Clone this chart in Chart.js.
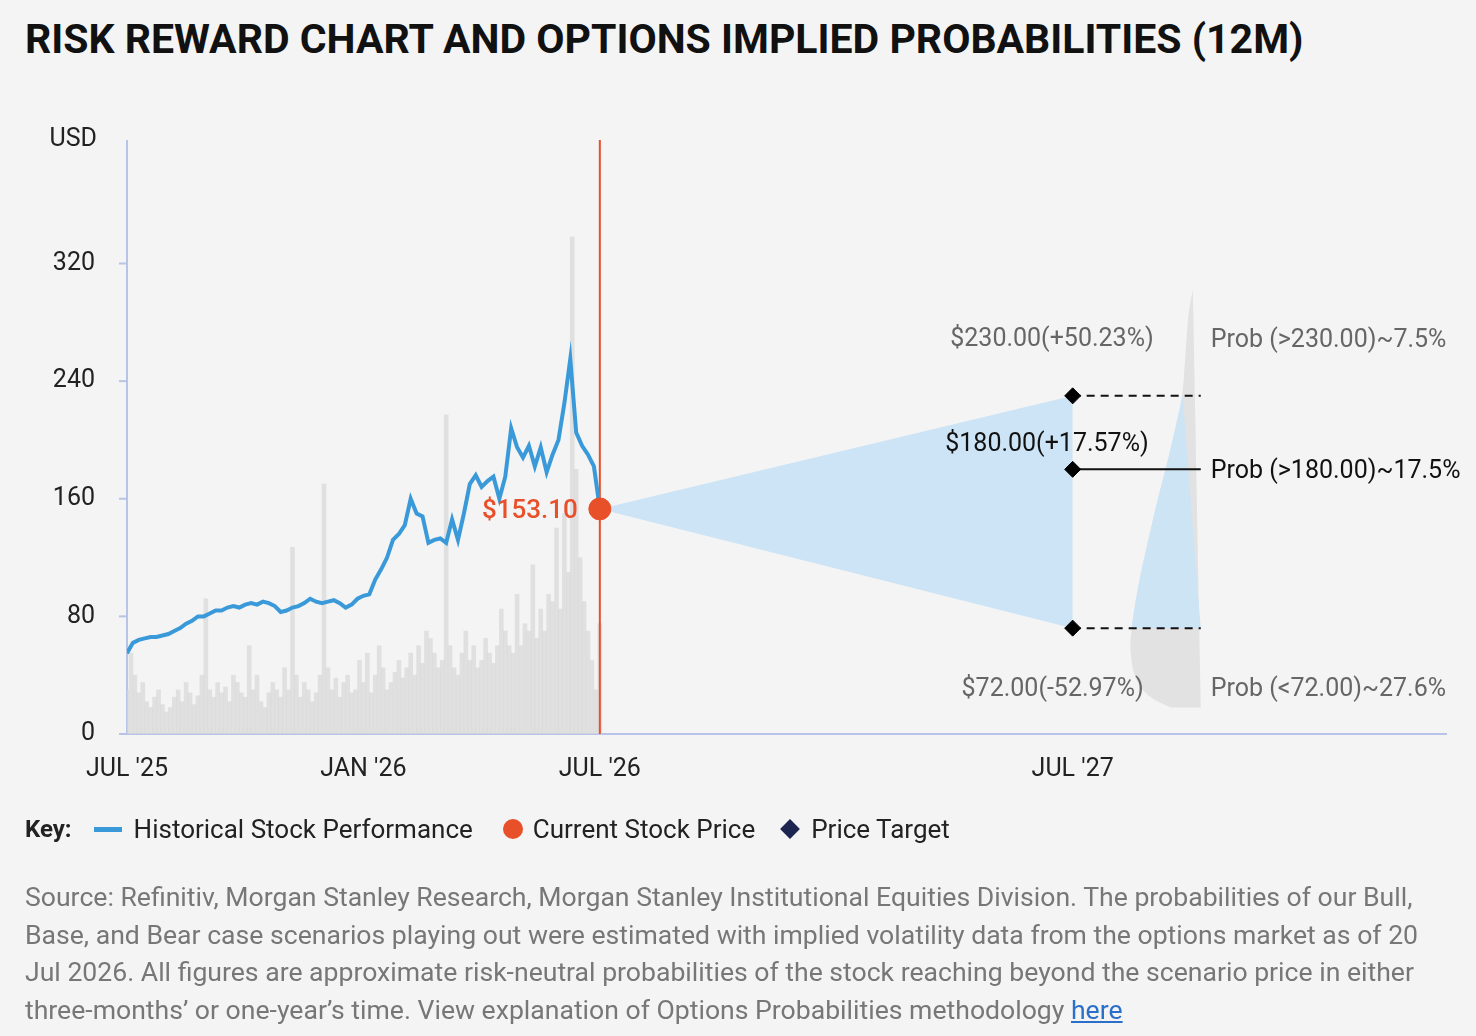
<!DOCTYPE html>
<html><head><meta charset="utf-8">
<script src="https://cdn.jsdelivr.net/npm/chart.js@4"></script>
<style>
html,body{margin:0;padding:0;background:#f4f4f4;width:1476px;height:1036px;overflow:hidden;font-family:Roboto,sans-serif}
#c{position:absolute;left:0;top:0}
.title{position:absolute;left:25px;top:15px;font:700 41px Roboto;color:#111;white-space:nowrap}
.key{position:absolute;left:25px;top:814px;font:26px Roboto;color:#222;white-space:nowrap;display:flex;align-items:center}
.key b{font-weight:700;margin-right:22px;font-size:24px}
.src{position:absolute;left:25px;top:878px;font:26.6px/37.6px Roboto;color:#777;white-space:nowrap}
.src a{color:#2a6fc9;text-decoration:underline}
</style></head><body>
<div class="title">RISK REWARD CHART AND OPTIONS IMPLIED PROBABILITIES (12M)</div>
<canvas id="c" width="1476" height="1036"></canvas>
<div class="key"><b>Key:</b>
<span style="display:inline-block;width:28px;height:5px;background:#3a9ad9;margin-right:12px"></span>Historical Stock Performance
<span style="display:inline-block;width:20px;height:20px;border-radius:50%;background:#e8502a;margin:0 10px 0 30px"></span>Current Stock Price
<span style="display:inline-block;width:14px;height:14px;background:#1c2550;transform:rotate(45deg);margin:0 14px 0 28px"></span>Price Target
</div>
<div class="src">Source: Refinitiv, Morgan Stanley Research, Morgan Stanley Institutional Equities Division. The probabilities of our Bull,<br>Base, and Bear case scenarios playing out were estimated with implied volatility data from the options market as of 20<br>Jul 2026. All figures are approximate risk-neutral probabilities of the stock reaching beyond the scenario price in either<br>three-months’ or one-year’s time. View explanation of Options Probabilities methodology <a>here</a></div>
<script>
// x axis unit: months since JUL '25
const xTickMonths = [0, 6, 12, 24];
const xTickLabels = ["JUL '25", "JAN '26", "JUL '26", "JUL '27"];
const yTicks = [0, 80, 160, 240, 320];
const prices = [55,62,64,65,66,66,67,68,70,72,75,77,80,80,82,84,84,86,87,86,88,89,88,90,89,87,83,84,86,87,89,92,90,89,90,91,89,86,88,92,94,95,105,112,120,132,136,142,160,150,148,130,132,133,130,146,132,150,170,176,168,172,175,160,175,208,195,188,196,182,195,178,190,200,225,255,205,196,190,182,153.1];
const volumes = [30,55,40,28,35,22,18,25,30,20,15,18,25,30,22,35,28,20,26,40,92,30,25,35,28,32,22,40,35,28,25,60,30,40,22,18,28,35,30,25,45,30,127,40,25,35,30,22,28,40,170,45,30,38,25,35,40,28,30,50,35,55,28,40,60,45,30,35,42,50,38,45,55,40,60,48,70,65,55,45,50,217,60,45,40,55,70,50,60,45,50,65,55,48,60,85,70,60,55,95,60,75,70,115,65,85,70,95,90,140,85,150,110,338,180,120,90,70,50,30,75];
const currentPrice = 153.1;
const currentMonth = 12;
const targetMonth = 24;
const targets = [230, 180, 72];
const targetLabels = ["$230.00(+50.23%)", "$180.00(+17.57%)", "$72.00(-52.97%)"];
const probLabels = ["Prob (>230.00)~7.5%", "Prob (>180.00)~17.5%", "Prob (<72.00)~27.6%"];
const distPrices = [302,290,270,250,230,200,180,160,139,110,91,72,57,37,25,18];
const distDensity = [0.2,0.3,0.36,0.41,0.46,0.71,0.89,1.09,1.27,1.52,1.65,1.76,1.8,1.68,1.32,0.76];
const distBase = 27.25;
const lineEnd = 27.25;

const priceStep = currentMonth/(prices.length-1);
const volStep = currentMonth/(volumes.length-1);
const pricePts = prices.map((v,i)=>({x:i*priceStep,y:v}));
const volPts = volumes.map((v,i)=>({x:i*volStep,y:v}));

function smoothPath(ctx,pts){
 ctx.moveTo(pts[0][0],pts[0][1]);
 for(let i=1;i<pts.length-1;i++){
  const mx=(pts[i][0]+pts[i+1][0])/2,my=(pts[i][1]+pts[i+1][1])/2;
  ctx.quadraticCurveTo(pts[i][0],pts[i][1],mx,my);
 }
 const l=pts[pts.length-1];ctx.lineTo(l[0],l[1]);
}
function drawDist(ctx,x,y,filt,color){
 const idx=distPrices.map((p,i)=>i).filter(i=>filt(distPrices[i]));
 const left=idx.map(i=>[x.getPixelForValue(distBase-distDensity[i]),y.getPixelForValue(distPrices[i])]);
 const bx=x.getPixelForValue(distBase);
 ctx.beginPath();
 ctx.moveTo(bx,left[0][1]);
 ctx.lineTo(left[0][0],left[0][1]);
 smoothPath(ctx,left);
 ctx.lineTo(bx,left[left.length-1][1]);
 ctx.closePath();ctx.fillStyle=color;ctx.fill();
}

const AX='#b7c4e8';
const deco = {
 id:'deco',
 beforeDatasetsDraw(ch){
  const {ctx,chartArea:a,scales:{x,y}}=ch;
  ctx.save();
  drawDist(ctx,x,y,()=>true,'#e2e2e2');
  drawDist(ctx,x,y,p=>p<=targets[0]&&p>=targets[2],'#cde4f5');
  ctx.strokeStyle=AX;ctx.lineWidth=2;
  ctx.beginPath();ctx.moveTo(a.left,a.top);ctx.lineTo(a.left,a.bottom);ctx.lineTo(a.right,a.bottom);ctx.stroke();
  ctx.fillStyle='#222';ctx.font='25px Roboto';ctx.textBaseline='middle';
  yTicks.forEach(t=>{const py=y.getPixelForValue(t);ctx.beginPath();ctx.moveTo(a.left-8,py);ctx.lineTo(a.left,py);ctx.stroke();
   ctx.textAlign='right';ctx.fillText(String(t),a.left-32,py);});
  ctx.textAlign='right';ctx.fillText('USD',a.left-30,a.top);
  ctx.textAlign='center';
  xTickMonths.forEach((m,i)=>ctx.fillText(xTickLabels[i],x.getPixelForValue(m),a.bottom+36));
  ctx.restore();
 },
 afterDatasetsDraw(ch){
  const {ctx,scales:{x,y}}=ch;
  ctx.save();ctx.font='25px Roboto';ctx.textBaseline='middle';
  const tx=x.getPixelForValue(targetMonth);
  const tyOff=[-56,-25,62];
  const txOff=[81,76,71];
  const pyOff=[-55,2,62];
  const cols=['#666','#111','#666'];
  targets.forEach((t,i)=>{
   const py=y.getPixelForValue(t);
   ctx.fillStyle=cols[i];ctx.textAlign='right';
   ctx.fillText(targetLabels[i],tx+txOff[i],py+tyOff[i]);
   ctx.textAlign='left';
   ctx.fillText(probLabels[i],x.getPixelForValue(lineEnd)+10,py+pyOff[i]);
  });
  ctx.fillStyle='#e8502a';ctx.font='500 26px Roboto';ctx.textAlign='right';
  ctx.fillText('$'+currentPrice.toFixed(2),x.getPixelForValue(currentMonth)-22,y.getPixelForValue(currentPrice)+3);
  ctx.restore();
 }
};

new Chart(document.getElementById('c'),{
 data:{datasets:[
  {type:'line',data:[{x:currentMonth,y:currentPrice},{x:targetMonth,y:targets[0]}],fill:'+1',backgroundColor:'rgba(200,226,245,0.9)',borderWidth:0,pointRadius:0,order:8},
  {type:'line',data:[{x:currentMonth,y:currentPrice},{x:targetMonth,y:targets[2]}],fill:false,borderWidth:0,pointRadius:0,order:8},
  {type:'bar',data:volPts,backgroundColor:'rgba(215,215,215,0.7)',barPercentage:1,categoryPercentage:1,order:7},
  {type:'line',data:[{x:targetMonth,y:targets[0]},{x:lineEnd,y:targets[0]}],borderColor:'#111',borderWidth:2,borderDash:[8,6],pointRadius:0,order:3},
  {type:'line',data:[{x:targetMonth,y:targets[1]},{x:lineEnd,y:targets[1]}],borderColor:'#111',borderWidth:2,pointRadius:0,order:3},
  {type:'line',data:[{x:targetMonth,y:targets[2]},{x:lineEnd,y:targets[2]}],borderColor:'#111',borderWidth:2,borderDash:[8,6],pointRadius:0,order:3},
  {type:'line',data:[{x:currentMonth,y:0},{x:currentMonth,y:404}],borderColor:'#e8502a',borderWidth:2,pointRadius:0,order:4},
  {type:'line',data:pricePts,borderColor:'#3a9ad9',borderWidth:4,pointRadius:0,tension:0,order:2},
  {type:'scatter',data:targets.map(t=>({x:targetMonth,y:t})),pointStyle:'rectRot',pointRadius:8,backgroundColor:'#000',borderColor:'#000',order:1},
  {type:'scatter',data:[{x:currentMonth,y:currentPrice}],pointRadius:11,backgroundColor:'#e8502a',borderColor:'#e8502a',order:0}
 ]},
 options:{responsive:false,animation:false,devicePixelRatio:1,
  layout:{padding:{left:127,top:140,right:29,bottom:302}},
  plugins:{legend:{display:false},tooltip:{enabled:false}},
  scales:{
   x:{type:'linear',min:0,max:33.5,offset:false,display:false},
   y:{type:'linear',min:0,max:404,display:false}
  }},
 plugins:[deco]
});
</script></body></html>
